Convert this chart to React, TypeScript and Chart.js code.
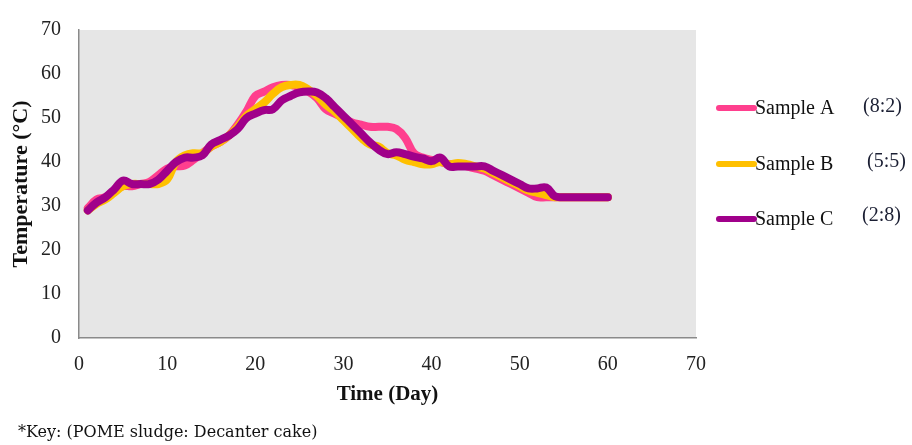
import React, { useEffect, useRef } from "react";
import { Chart, registerables } from "chart.js";

Chart.register(...registerables);

const days = [1,2,3,4,5,6,7,8,9,10,11,12,13,14,15,16,17,18,19,20,21,22,23,24,25,26,27,28,29,30,31,32,33,34,35,36,37,38,39,40,41,42,43,44,45,46,47,48,49,50,51,52,53,54,55,56,57,58,59,60];

const sampleA = [29.5,31.5,32,33.5,34.5,34.5,35,35.5,37,38.5,39,39.2,40.5,42,43.5,44.5,46,48.5,51.5,55,56,57,57.5,57.5,57,56,54.5,52,51,50,49,48.5,48,48,48,47.5,45.5,42,41,40.5,40,39.5,39.5,39,38.5,38,37,36,35,34,33,32,32,32,32,32,32,32,32,32];
const sampleB = [29,30.5,31.5,33,34.5,35,35,35,35,36,40,41.5,42,42,43.5,44.5,46,48,50.5,52,53.5,55.5,57,57.5,57.5,56.5,55,53,51.5,49.5,47.5,45.5,44,43.5,42,41.5,40.5,40,39.5,39.5,40,39.5,39.8,39.5,39,38.5,37.5,36.5,35.5,34.5,33.5,33,32.5,32,32,32,32,32,32,32];
const sampleC = [29,30.8,32,33.8,35.8,35,35,35,36,38,40,41,41,41.5,44,45,46,47.5,50,51,51.8,52,54,55,55.8,56,55.8,54.5,52.5,50.5,48.5,46.5,44.5,42.8,41.8,42.2,41.8,41.2,40.8,40.2,41,39,39,39,39,39,38,37,36,35,34,34,34.2,32.2,32,32,32,32,32,32];

const seriesNames = ["Sample A", "Sample B", "Sample C"];
const ratios = ["(8:2)", "(5:5)", "(2:8)"];
const colors = ["#FF3F8E", "#FFC000", "#A0008A"];
const keyText = "*Key: (POME sludge: Decanter cake)";

const xTicks = [0, 10, 20, 30, 40, 50, 60, 70];
const yTicks = [0, 10, 20, 30, 40, 50, 60, 70];

const SERIF = "'Liberation Serif', 'Times New Roman', serif";

export default function App() {
  const ref = useRef<HTMLCanvasElement | null>(null);

  useEffect(() => {
    if (!ref.current) return;
    const all = [sampleA, sampleB, sampleC];

    const bgPlugin = {
      id: "plotBg",
      beforeDraw(chart: any) {
        const { ctx, chartArea } = chart;
        ctx.save();
        ctx.fillStyle = "#E6E6E6";
        ctx.fillRect(chartArea.left, chartArea.top, chartArea.right - chartArea.left, chartArea.bottom - chartArea.top);
        ctx.restore();
      },
    };

    const legendPlugin = {
      id: "customLegend",
      afterDraw(chart: any) {
        const { ctx } = chart;
        const ys = [108, 164, 219];
        const rx = [863, 867, 862];
        const ry = [107, 162, 216];
        ctx.save();
        chart.data.datasets.forEach((ds: any, i: number) => {
          ctx.strokeStyle = ds.borderColor;
          ctx.lineWidth = 6;
          ctx.lineCap = "round";
          ctx.beginPath();
          ctx.moveTo(719, ys[i]);
          ctx.lineTo(754, ys[i]);
          ctx.stroke();
          ctx.fillStyle = "#111";
          ctx.font = `20px ${SERIF}`;
          ctx.textAlign = "left";
          ctx.textBaseline = "middle";
          ctx.fillText(ds.label, 755, ys[i] + 1);
          ctx.fillStyle = "#1b1f33";
          ctx.fillText(ratios[i], rx[i], ry[i]);
        });
        ctx.fillStyle = "#111";
        ctx.font = "16px 'DejaVu Serif', serif";
        ctx.textAlign = "left";
        ctx.textBaseline = "middle";
        ctx.fillText(keyText, 18, 433);
        ctx.restore();
      },
    };

    const chart = new Chart(ref.current, {
      type: "line",
      data: {
        datasets: seriesNames.map((name, i) => ({
          label: name,
          data: days.map((d, j) => ({ x: d, y: all[i][j] })),
          borderColor: colors[i],
          backgroundColor: colors[i],
          borderWidth: 8,
          pointRadius: 0,
          tension: 0.4,
          borderCapStyle: "round",
          borderJoinStyle: "round",
          order: 3 - i,
        })),
      },
      options: {
        animation: false,
        responsive: false,
        maintainAspectRatio: false,
        layout: { padding: { top: 22, right: 216, left: 0, bottom: 0 } },
        plugins: { legend: { display: false }, tooltip: { enabled: false } },
        scales: {
          x: {
            type: "linear",
            min: 0,
            max: 70,
            afterFit: (s: any) => { s.height = 107; },
            afterBuildTicks: (s: any) => { s.ticks = xTicks.map((v) => ({ value: v })); },
            grid: { display: false, drawTicks: false },
            border: { display: true, color: "#8a8a8a", width: 1.5 },
            ticks: { font: { family: SERIF, size: 20 }, color: "#222", padding: 15, maxRotation: 0 },
            title: {
              display: true,
              text: "Time (Day)",
              font: { family: SERIF, size: 21, weight: "bold" },
              color: "#111",
              padding: { top: 0, bottom: 38 },
            },
          },
          y: {
            type: "linear",
            min: 0,
            max: 70,
            afterFit: (s: any) => { s.width = 79; },
            afterBuildTicks: (s: any) => { s.ticks = yTicks.map((v) => ({ value: v })); },
            grid: { display: false, drawTicks: false },
            border: { display: true, color: "#8a8a8a", width: 1.5 },
            ticks: { font: { family: SERIF, size: 20 }, color: "#222", padding: 18 },
            title: {
              display: true,
              text: "Temperature (°C)",
              font: { family: SERIF, size: 22, weight: "bold" },
              color: "#111",
              padding: { top: 8, bottom: 0 },
            },
          },
        },
      },
      plugins: [bgPlugin, legendPlugin],
    } as any);

    return () => chart.destroy();
  }, []);

  return (
    <div style={{ position: "absolute", left: 0, top: 0, width: 912, height: 445, background: "#fff" }}>
      <canvas ref={ref} width={912} height={445} style={{ width: 912, height: 445, display: "block" }} />
    </div>
  );
}
